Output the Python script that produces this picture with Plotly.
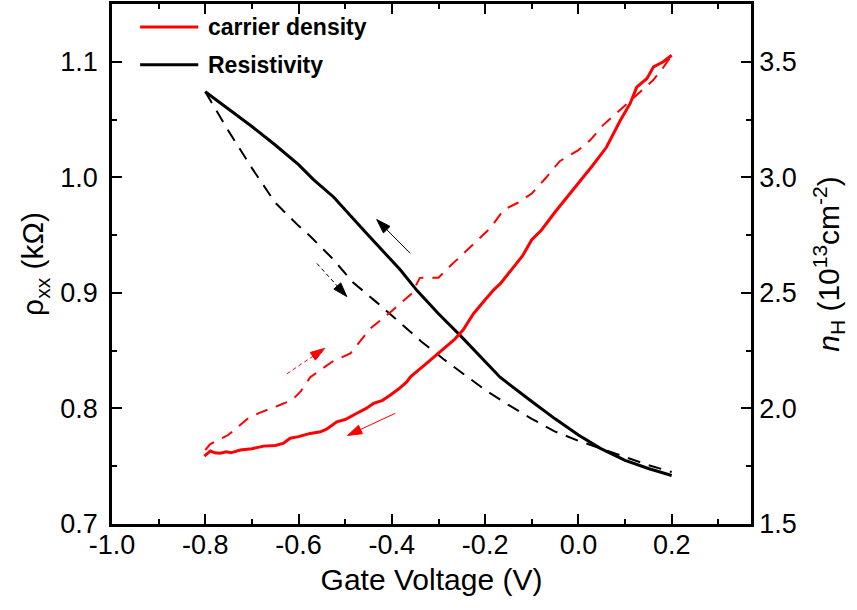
import plotly.graph_objects as go

# ---------------- data ----------------
# Resistivity, backward sweep (solid black), left axis
v_rho_back = [-0.80, -0.75, -0.70, -0.65, -0.60, -0.568, -0.525, -0.453, -0.382, -0.346,
              -0.30, -0.253, -0.20, -0.168, -0.10, -0.05, 0.0, 0.047, 0.10, 0.15, 0.20]
rho_back = [1.074, 1.059, 1.044, 1.028, 1.011, 0.998, 0.983, 0.951, 0.920, 0.902,
            0.882, 0.863, 0.841, 0.827, 0.806, 0.791, 0.777, 0.7655, 0.755, 0.748, 0.742]

# Resistivity, forward sweep (dashed black), left axis
v_rho_fwd = [-0.80, -0.75, -0.70, -0.65, -0.60, -0.575, -0.528, -0.483, -0.433, -0.384,
             -0.337, -0.287, -0.238, -0.20, -0.15, -0.10, -0.05, 0.0, 0.05, 0.10, 0.15, 0.20]
rho_fwd = [1.074, 1.040, 1.008, 0.978, 0.958, 0.949, 0.930, 0.909, 0.892, 0.875,
           0.858, 0.842, 0.827, 0.816, 0.803, 0.791, 0.780, 0.772, 0.765, 0.758, 0.751, 0.745]

# Carrier density, backward sweep (solid red), right axis
v_n_back = [-0.802, -0.789, -0.78, -0.768, -0.755, -0.745, -0.725, -0.70, -0.675, -0.65,
            -0.633, -0.618, -0.60, -0.575, -0.553, -0.54, -0.518, -0.50, -0.475, -0.455,
            -0.439, -0.42, -0.403, -0.385, -0.368, -0.36, -0.325, -0.30, -0.282, -0.265,
            -0.247, -0.225, -0.20, -0.182, -0.167, -0.14, -0.12, -0.10, -0.08, -0.05,
            -0.03, 0.0, 0.03, 0.06, 0.09, 0.111, 0.125, 0.147, 0.161, 0.182, 0.20]
n_back = [1.794, 1.816, 1.808, 1.806, 1.812, 1.808, 1.820, 1.826, 1.837, 1.840,
          1.849, 1.871, 1.878, 1.892, 1.899, 1.910, 1.942, 1.952, 1.979, 2.000,
          2.022, 2.035, 2.058, 2.085, 2.115, 2.137, 2.196, 2.240, 2.274, 2.300,
          2.340, 2.410, 2.470, 2.512, 2.541, 2.610, 2.660, 2.730, 2.770, 2.850,
          2.900, 2.970, 3.050, 3.130, 3.247, 3.320, 3.390, 3.428, 3.478, 3.500, 3.528]

# Carrier density, forward sweep (dashed red), right axis
v_n_fwd = [-0.80, -0.79, -0.751, -0.73, -0.708, -0.685, -0.665, -0.64, -0.614, -0.595,
           -0.575, -0.55, -0.528, -0.489, -0.446, -0.40, -0.357, -0.34, -0.30, -0.275,
           -0.228, -0.189, -0.16, -0.13, -0.10, -0.07, -0.04, 0.0, 0.025, 0.053,
           0.094, 0.135, 0.16, 0.18, 0.20]
n_fwd = [1.820, 1.845, 1.885, 1.920, 1.958, 1.980, 1.997, 2.015, 2.036, 2.075,
         2.135, 2.170, 2.202, 2.238, 2.346, 2.422, 2.498, 2.565, 2.566, 2.616,
         2.707, 2.780, 2.860, 2.890, 2.930, 2.997, 3.070, 3.118, 3.160, 3.226,
         3.300, 3.373, 3.420, 3.470, 3.528]

series_names = ["carrier density", "Resistivity"]
x_ticks = [-1.0, -0.8, -0.6, -0.4, -0.2, 0.0, 0.2]
x_tick_labels = ["-1.0", "-0.8", "-0.6", "-0.4", "-0.2", "0.0", "0.2"]
y_ticks = [0.7, 0.8, 0.9, 1.0, 1.1]
y_tick_labels = ["0.7", "0.8", "0.9", "1.0", "1.1"]
y2_ticks = [1.5, 2.0, 2.5, 3.0, 3.5]
y2_tick_labels = ["1.5", "2.0", "2.5", "3.0", "3.5"]

FONT = "Liberation Sans, Arial, sans-serif"
RED = "#ff0000"
BLACK = "#000000"

fig = go.Figure()
fig.add_trace(go.Scatter(x=v_rho_fwd, y=rho_fwd, mode="lines",
                         line=dict(color=BLACK, width=2, dash="13px,9px"), showlegend=False))
fig.add_trace(go.Scatter(x=v_rho_back, y=rho_back, mode="lines",
                         line=dict(color=BLACK, width=3), showlegend=False))
fig.add_trace(go.Scatter(x=v_n_fwd, y=n_fwd, mode="lines", yaxis="y2",
                         line=dict(color=RED, width=2, dash="12px,9px"), showlegend=False))
fig.add_trace(go.Scatter(x=v_n_back, y=n_back, mode="lines", yaxis="y2",
                         line=dict(color=RED, width=3), showlegend=False))


# ---- sweep-direction arrows (left-axis data coordinates): line + arrowhead marker ----
def add_arrow(x0, y0, x1, y1, color, dash):
    fig.add_trace(go.Scatter(
        x=[x0, x1], y=[y0, y1], mode="lines+markers", showlegend=False, hoverinfo="skip",
        line=dict(color=color, width=1, dash=dash),
        marker=dict(symbol="arrow", size=[0, 15], angleref="previous", color=color,
                    opacity=1, line=dict(width=1, color=color))))


add_arrow(-0.3606, 0.9342, -0.4325, 0.9635, BLACK, "solid")     # backward resistivity
add_arrow(-0.3927, 0.7958, -0.4950, 0.7766, RED, "solid")       # backward carrier density
add_arrow(-0.5606, 0.9255, -0.4965, 0.8968, BLACK, "4px,3px")   # forward resistivity
add_arrow(-0.6250, 0.8300, -0.5440, 0.8520, RED, "4px,3px")     # forward carrier density

axis_common = dict(showline=True, linecolor=BLACK, linewidth=2.5, ticks="inside",
                   ticklen=10, tickwidth=2, tickcolor=BLACK, showgrid=False, zeroline=False,
                   tickfont=dict(family=FONT, size=27, color=BLACK))

fig.update_layout(
    width=857, height=610,
    margin=dict(l=112, r=106, t=4, b=86, autoexpand=False),
    paper_bgcolor="white", plot_bgcolor="white",
    font=dict(family=FONT, color=BLACK),
    xaxis=dict(range=[-1.0, 0.37], tickvals=x_ticks, ticktext=x_tick_labels, mirror="ticks",
               minor=dict(ticks="inside", ticklen=5, tickwidth=2, tickcolor=BLACK, dtick=0.1, tick0=-1.0),
               title=dict(text="Gate Voltage (V)", font=dict(family=FONT, size=30), standoff=10),
               ticklabelstandoff=-5, **axis_common),
    yaxis=dict(range=[0.7, 1.15], tickvals=y_ticks, ticktext=y_tick_labels,
               minor=dict(ticks="inside", ticklen=5, tickwidth=2, tickcolor=BLACK, dtick=0.05, tick0=0.7),
               title=dict(text="ρ<sub>xx</sub> (kΩ)", font=dict(family=FONT, size=30), standoff=8),
               ticklabelstandoff=6, **axis_common),
    yaxis2=dict(range=[1.5, 3.75], tickvals=y2_ticks, ticktext=y2_tick_labels,
                overlaying="y", side="right",
                minor=dict(ticks="inside", ticklen=5, tickwidth=2, tickcolor=BLACK, dtick=0.25, tick0=1.5),
                title=dict(text="<i>n</i><sub>H</sub> (10<sup>13</sup>cm<sup>-2</sup>)",
                           font=dict(family=FONT, size=30), standoff=23),
                ticklabelstandoff=0, **axis_common),
)

# ---- custom legend (top-left, inside plot) ----
legend_rows = [(series_names[0], RED, 0.956), (series_names[1], BLACK, 0.883)]
for name, col, yp in legend_rows:
    fig.add_shape(type="line", xref="paper", yref="paper", x0=0.044, x1=0.135, y0=yp, y1=yp,
                  line=dict(color=col, width=3))
    fig.add_annotation(xref="paper", yref="paper", x=0.147, y=yp, text="<b>%s</b>" % name,
                       showarrow=False, xanchor="left", yanchor="middle",
                       font=dict(family=FONT, size=23, color=BLACK))

fig.write_html("out.html")
